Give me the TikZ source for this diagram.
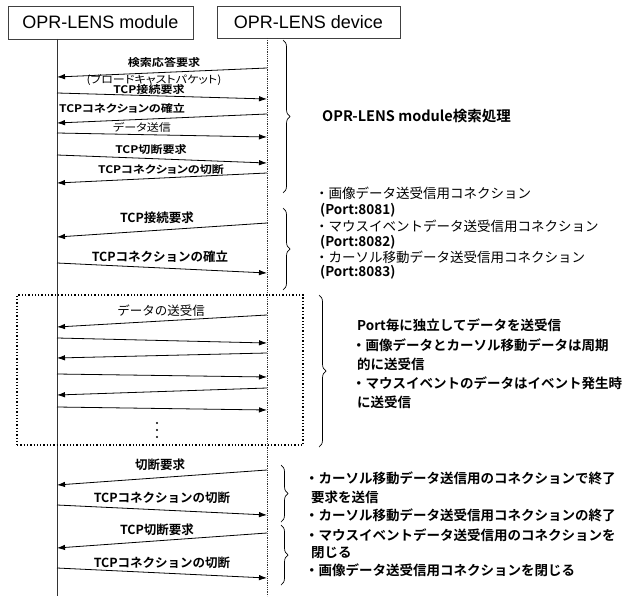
\documentclass[tikz,border=0pt]{standalone}
\usepackage{fontspec}
\setmainfont{Liberation Sans}
\newfontfamily\jp{Noto Sans CJK JP}[BoldFont={* Bold}]
\newfontfamily\jpw{Noto Sans CJK JP}[BoldFont={* Bold}, FakeStretch=1.15, RawFeature=+palt]
\usetikzlibrary{arrows.meta,decorations.pathreplacing}
\begin{document}
\begin{tikzpicture}[x=1pt,y=-1pt,
  hdr/.style={draw=black!75, line width=0.6pt, inner sep=0pt, font=\fontsize{18}{20}\selectfont},
  life/.style={line width=0.6pt, black!80},
  lifed/.style={line width=0.8pt, black!80, densely dotted},
  msg/.style={-{Latex[length=8pt,width=5.5pt]}, line width=0.8pt},
  laba/.style={inner sep=0pt, text height=0.78em, text depth=0.08em, font=\jpw\bfseries\fontsize{10.5}{11}\selectfont},
  labal/.style={laba, font=\jpw\fontsize{10.5}{11}\selectfont},
  labb/.style={inner sep=0pt, font=\jp\bfseries\fontsize{12.5}{14}\selectfont},
  note/.style={inner sep=0pt, anchor=west, font=\jp\bfseries\fontsize{13.5}{15}\selectfont},
  notel/.style={inner sep=0pt, anchor=west, font=\jp\fontsize{13.5}{15}\selectfont},
  brc/.style={decorate, decoration={brace, amplitude=7pt}, line width=0.7pt},
  grpbox/.style={draw, dotted, line width=1.3pt, inner sep=0pt}]
\useasboundingbox (0,0) rectangle (628,596);

% headers
\node[hdr, minimum width=185pt, minimum height=33pt] (mod) at (100.5,22.5) {OPR-LENS module};
\node[hdr, minimum width=183pt, minimum height=32pt] (dev) at (308.5,22) {OPR-LENS device};

% lifelines
\coordinate (mtop) at (57,39);  \coordinate (mbot) at (57,596);
\coordinate (dtop) at (267,38); \coordinate (dbot) at (267,596);
\draw[life] (mtop) -- (mbot);
\draw[lifed] (dtop) -- (dbot);

% group box
\node[grpbox, minimum width=286pt, minimum height=150pt] (grp) at (160,370) {};

% messages
\foreach \i/\xa/\ya/\xb/\yb in {
  1/267/68/57/77, 2/57/93/267/99, 3/267/114/57/123, 4/57/133/267/137,
  5/57/155/267/163, 6/267/173/57/183, 7/267/223/57/237, 8/57/263/267/273,
  9/267/315/57/327, 10/57/338/267/343, 11/267/353/57/358, 12/57/374/267/377,
  13/267/388/57/395, 14/57/407/267/410, 15/267/470/57/485, 16/57/505/267/515,
  17/267/533/57/548, 18/57/568/267/578}{
  \coordinate (s\i) at (\xa,\ya);
  \coordinate (e\i) at (\xb,\yb);
  \draw[msg] (s\i) -- (e\i);
}

% section 1 labels
\node[laba]  (l1)  at (164,63)  {検索応答要求};
\node[labal] (l1b) at (154,80.5) {(ブロードキャストパケット)};
\node[laba]  (l2)  at (149,90.5)  {TCP接続要求};
\node[laba]  (l3)  at (122,109) {TCPコネクションの確立};
\node[labal] (l4)  at (142,128) {データ送信};
\node[laba]  (l5)  at (151,150) {TCP切断要求};
\node[laba]  (l6)  at (161,170) {TCPコネクションの切断};

% other labels
\node[labb] (l7)  at (157,218) {TCP接続要求};
\node[labb] (l8)  at (160,257) {TCPコネクションの確立};
\node[labb, font=\jp\fontsize{12.5}{14}\selectfont] (l9)  at (161,311) {データの送受信};
\node[labb] (l15) at (160,465) {切断要求};
\node[labb] (l16) at (162,498) {TCPコネクションの切断};
\node[labb] (l17) at (157,530) {TCP切断要求};
\node[labb] (l18) at (162,563) {TCPコネクションの切断};

% dots
\fill (157,423) circle (1.2);
\fill (157,430) circle (1.2);
\fill (157,437) circle (1.2);

% braces
\draw[brc] (283,40) -- (283,193);
\draw[brc] (283,208) -- (283,290);
\draw[brc] (319,295) -- (319,447);
\draw[brc] (281,465) -- (281,522);
\draw[brc] (281,525) -- (281,585);

% notes
\node[note, font=\jp\bfseries\fontsize{14.5}{16}\selectfont] (n1) at (322,116) {OPR-LENS module検索処理};

\node[notel] (n2a) at (315,193) {・画像データ送受信用コネクション};
\node[note]  (n2b) at (320,210) {(Port:8081)};
\node[notel] (n2c) at (315,226) {・マウスイベントデータ送受信用コネクション};
\node[note]  (n2d) at (320,242) {(Port:8082)};
\node[notel] (n2e) at (315,257) {・カーソル移動データ送受信用コネクション};
\node[note]  (n2f) at (320,272) {(Port:8083)};

\node[note] (n3a) at (357,325) {Port毎に独立してデータを送受信};
\node[note] (n3b) at (352,345) {・画像データとカーソル移動データは周期};
\node[note] (n3c) at (357,364) {的に送受信};
\node[note] (n3d) at (352,383) {・マウスイベントのデータはイベント発生時};
\node[note] (n3e) at (357,402) {に送受信};

\node[note] (n4a) at (305,478) {・カーソル移動データ送信用のコネクションで終了};
\node[note] (n4b) at (311,497) {要求を送信};
\node[note] (n4c) at (305,515) {・カーソル移動データ送受信用コネクションの終了};
\node[note] (n4d) at (305,535) {・マウスイベントデータ送受信用のコネクションを};
\node[note] (n4e) at (311,553) {閉じる};
\node[note] (n4f) at (305,570) {・画像データ送受信用コネクションを閉じる};
\end{tikzpicture}
\end{document}
